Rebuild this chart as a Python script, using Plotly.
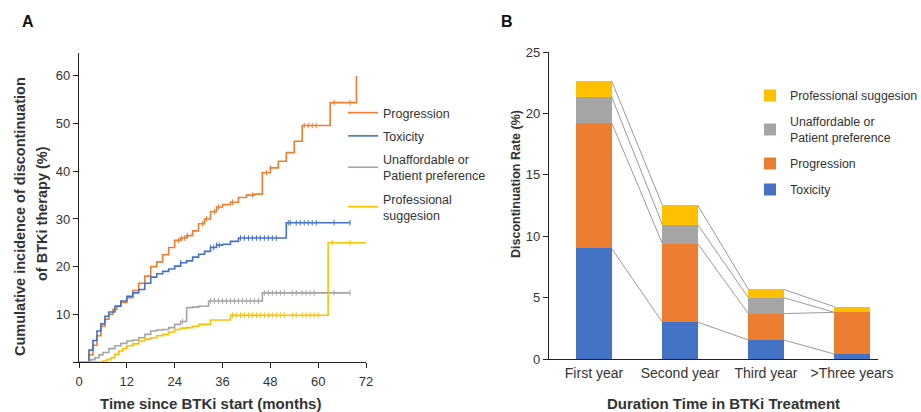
import numpy as np
import plotly.graph_objects as go

# ---------------- Panel A data (cumulative incidence, step curves) ----------------
prog_t = [0, 1.5, 2.5, 3.5, 4.5, 5.5, 6.5, 7.5, 8.5, 9.5, 10.5, 12, 13.5, 15, 16.5, 18, 19.5, 21, 22.5, 24,
          25.5, 27, 28.5, 30, 31.5, 33, 34.5, 36, 38, 40, 42, 44, 46, 48, 50, 52, 54, 56, 63, 69.6]
prog_v = [0, 0, 1.5, 3.5, 5.5, 7.5, 9, 10, 11, 11.8, 12.5, 13.5, 15, 16.5, 18, 20, 21, 22.5, 24, 25.5,
          26, 26.5, 27.5, 29, 30, 31.5, 32.5, 33, 33.5, 34.5, 35, 35.2, 39.7, 40.7, 42.1, 43.9, 46.3, 49.6, 54.4, 60]

tox_t = [0, 1.5, 2.5, 3.5, 4.5, 5.5, 6.5, 7.5, 9, 10.5, 12, 13.5, 15, 16.5, 18, 19.5, 21, 22.5, 24,
         25.5, 27, 28.5, 30, 31.5, 33, 34.5, 36, 38, 40, 52, 68]
tox_v = [0, 0, 2.5, 4.5, 6.5, 8, 9.6, 10.5, 11.7, 12.8, 13.8, 14.5, 15.2, 16.5, 17.8, 18.5, 19, 19.5, 20.1,
         20.8, 21.2, 22, 22.6, 23.2, 24, 24.5, 24.7, 25.3, 26, 29.2, 29.2]

unaff_t = [0, 2, 3, 4, 5, 6, 7.5, 9, 10.5, 12, 13.5, 15, 16.5, 18, 19.5, 21, 22.5, 24, 25.5, 27, 28.5,
           30, 32.5, 46, 68]
unaff_v = [0, 0, 0.5, 0.9, 1.5, 2, 2.8, 3.4, 3.9, 4.4, 4.6, 5.1, 5.8, 6.5, 6.7, 6.8, 7.2, 7.9, 8.5, 11.4, 11.5,
           11.7, 12.8, 14.5, 14.5]

prof_t = [0, 4, 6, 7, 8, 9, 10, 11, 12, 13.5, 15, 16.5, 18, 19.5, 21, 22.5, 24, 25.5, 27, 28.5, 30, 33,
          38, 62.5, 72]
prof_v = [0, 0, 0.2, 0.5, 0.9, 1.6, 2.3, 2.8, 3.4, 3.8, 4.4, 4.8, 5.1, 5.5, 5.8, 6.3, 6.8, 7.1, 7.2, 7.5,
          7.9, 8.8, 9.8, 25, 25]

# censoring times
prog_cens = [25, 25.8, 26.5, 27.2, 31, 32, 34, 35, 38.5, 43.5, 47, 48, 56.5, 57.5, 58.5, 59.5, 64, 68]
tox_cens = [25.5, 33, 33.8, 34.5, 35.2, 40.5, 41.5, 42.5, 43.5, 44.5, 45.5, 46.5, 47.5, 48.5, 49.5,
            52.5, 53, 54.5, 55.5, 56.5, 57.5, 58.5, 59.5, 64, 68]
unaff_cens = [26, 33, 34, 35, 36, 37, 38, 39, 40, 41, 42, 43, 44, 45, 46.5, 47.5, 48.5, 49.5, 50.5,
              51.5, 53.5, 54.5, 56, 57, 58, 59, 64, 68]
prof_cens = [38.5, 39.5, 40.5, 41.5, 42.5, 43.5, 44.5, 45.5, 46.5, 47.5, 48.5, 49.5, 50.5, 51.5,
             53.5, 54.5, 56, 57, 58, 59, 60, 63.5, 68]

a_names = ["Progression", "Toxicity", "Unaffordable or<br>Patient preference", "Professional<br>suggesion"]
a_x_ticks = [0, 12, 24, 36, 48, 60, 72]
a_y_ticks = [0, 10, 20, 30, 40, 50, 60]

# ---------------- Panel B data (discontinuation rate by duration) ----------------
b_categories = ["First year", "Second year", "Third year", ">Three years"]
b_tox = [9.0, 3.0, 1.55, 0.4]
b_prog = [10.25, 6.4, 2.15, 3.4]
b_unaff = [2.1, 1.55, 1.3, 0.0]
b_prof = [1.3, 1.58, 0.67, 0.45]
b_names = ["Toxicity", "Progression", "Unaffordable or<br>Patient preference", "Professional suggesion"]
b_legend_rank = [4, 3, 2, 1]
b_y_ticks = [0, 5, 10, 15, 20, 25]

C_ORANGE = "#ED7D31"
C_BLUE = "#4472C4"
C_GRAY = "#A5A5A5"
C_YELLOW = "#FFC000"
FONT = "Liberation Sans, Arial, sans-serif"
TXT = "#333333"

fig = go.Figure()

series_a = [
    (prog_t, prog_v, prog_cens, C_ORANGE),
    (tox_t, tox_v, tox_cens, C_BLUE),
    (unaff_t, unaff_v, unaff_cens, C_GRAY),
    (prof_t, prof_v, prof_cens, C_YELLOW),
]


def step_at(ts, vs, t):
    i = np.searchsorted(np.array(ts), t, side="right") - 1
    return float(np.array(vs)[i])


for name, (ts, vs, cens, col) in zip(a_names, series_a):
    fig.add_trace(go.Scatter(
        x=ts, y=vs, mode="lines", line=dict(color=col, width=1.6, shape="hv"),
        name=name, legend="legend", legendgroup=name, xaxis="x", yaxis="y"))
for name, (ts, vs, cens, col) in zip(a_names, series_a):
    fig.add_trace(go.Scatter(
        x=cens, y=[step_at(ts, vs, c) for c in cens], mode="markers",
        marker=dict(symbol="line-ns", size=4, line=dict(color=col, width=1)),
        showlegend=False, hoverinfo="skip", xaxis="x", yaxis="y"))

# Panel B bars
xb = list(range(len(b_categories)))
bar_w = 0.41
stack = [(b_tox, C_BLUE), (b_prog, C_ORANGE), (b_unaff, C_GRAY), (b_prof, C_YELLOW)]
for name, rank, (vals, col) in zip(b_names, b_legend_rank, stack):
    fig.add_trace(go.Bar(
        x=xb, y=vals, width=bar_w, marker=dict(color=col, line=dict(width=0)),
        name=name, legend="legend2", legendgroup="b" + name, legendrank=rank,
        xaxis="x2", yaxis="y2"))

# connecting lines between stacked boundaries
cum = np.cumsum(np.array([b_tox, b_prog, b_unaff, b_prof]), axis=0)
for level in cum:
    for i in range(len(xb) - 1):
        fig.add_trace(go.Scatter(
            x=[xb[i] + bar_w / 2, xb[i + 1] - bar_w / 2], y=[level[i], level[i + 1]],
            mode="lines", line=dict(color="#9a9a9a", width=1), showlegend=False,
            hoverinfo="skip", xaxis="x2", yaxis="y2"))

W, H = 921, 412
axis_common = dict(showline=True, linecolor="#222222", linewidth=1.3, ticks="outside",
                   ticklen=5, tickcolor="#222222", showgrid=False, zeroline=False,
                   automargin=False, tickfont=dict(family=FONT, size=13, color=TXT))

fig.update_layout(
    width=W, height=H, margin=dict(l=0, r=0, t=0, b=0, autoexpand=False),
    paper_bgcolor="white", plot_bgcolor="white",
    barmode="stack", bargap=0,
    font=dict(family=FONT, size=12, color=TXT),
    xaxis=dict(domain=[79 / W, 366 / W], range=[0, 72], tickvals=a_x_ticks,
               anchor="y", ticklabelstandoff=2, **axis_common),
    yaxis=dict(domain=[(H - 362) / H, (H - 53) / H], range=[0, 64.8], tickvals=a_y_ticks,
               ticktext=[("" if v == 0 else str(v)) for v in a_y_ticks], anchor="x", **axis_common),
    xaxis2=dict(domain=[549 / W, 878 / W], range=[-0.523, 3.302], tickvals=xb,
                ticktext=b_categories, anchor="y2", ticklabelstandoff=1,
                **{**axis_common, "ticks": "",
                   "tickfont": dict(family=FONT, size=14, color=TXT)}),
    yaxis2=dict(domain=[(H - 359) / H, (H - 52) / H], range=[0, 25], tickvals=b_y_ticks,
                anchor="x2", **{**axis_common, "tickfont": dict(family=FONT, size=13, color=TXT)}),
    legend=dict(x=343 / W, y=1 - 98 / H, xanchor="left", yanchor="top", bgcolor="rgba(0,0,0,0)",
                font=dict(family=FONT, size=12.5, color=TXT), traceorder="grouped",
                tracegroupgap=4, itemwidth=30),
    legend2=dict(x=750 / W, y=1 - 81 / H, xanchor="left", yanchor="top", bgcolor="rgba(0,0,0,0)",
                 font=dict(family=FONT, size=12.3, color=TXT), traceorder="grouped",
                 tracegroupgap=7, itemwidth=30),
    annotations=[
        dict(text="<b>A</b>", x=28 / W, y=1 - 22 / H, xref="paper", yref="paper", showarrow=False,
             xanchor="center", yanchor="middle", font=dict(family=FONT, size=16, color="#111")),
        dict(text="<b>B</b>", x=507 / W, y=1 - 22 / H, xref="paper", yref="paper", showarrow=False,
             xanchor="center", yanchor="middle", font=dict(family=FONT, size=16, color="#111")),
        dict(text="<b>Cumulative incidence of discontinuation</b>", x=20 / W, y=1 - 217 / H,
             xref="paper", yref="paper", showarrow=False, textangle=-90,
             xanchor="center", yanchor="middle", font=dict(family=FONT, size=14.5, color=TXT)),
        dict(text="<b>of BTKi therapy (%)</b>", x=42 / W, y=1 - 214 / H,
             xref="paper", yref="paper", showarrow=False, textangle=-90,
             xanchor="center", yanchor="middle", font=dict(family=FONT, size=14.5, color=TXT)),
        dict(text="<b>Time since BTKi start (months)</b>", x=210 / W, y=1 - 403 / H,
             xref="paper", yref="paper", showarrow=False, xanchor="center", yanchor="middle",
             font=dict(family=FONT, size=15, color=TXT)),
        dict(text="<b>Discontinuation Rate (%)</b>", x=516 / W, y=1 - 184 / H,
             xref="paper", yref="paper", showarrow=False, textangle=-90,
             xanchor="center", yanchor="middle", font=dict(family=FONT, size=12.5, color=TXT)),
        dict(text="<b>Duration Time in BTKi Treatment</b>", x=723 / W, y=1 - 403 / H,
             xref="paper", yref="paper", showarrow=False, xanchor="center", yanchor="middle",
             font=dict(family=FONT, size=15, color=TXT)),
    ],
)

fig.write_html("out.html")
